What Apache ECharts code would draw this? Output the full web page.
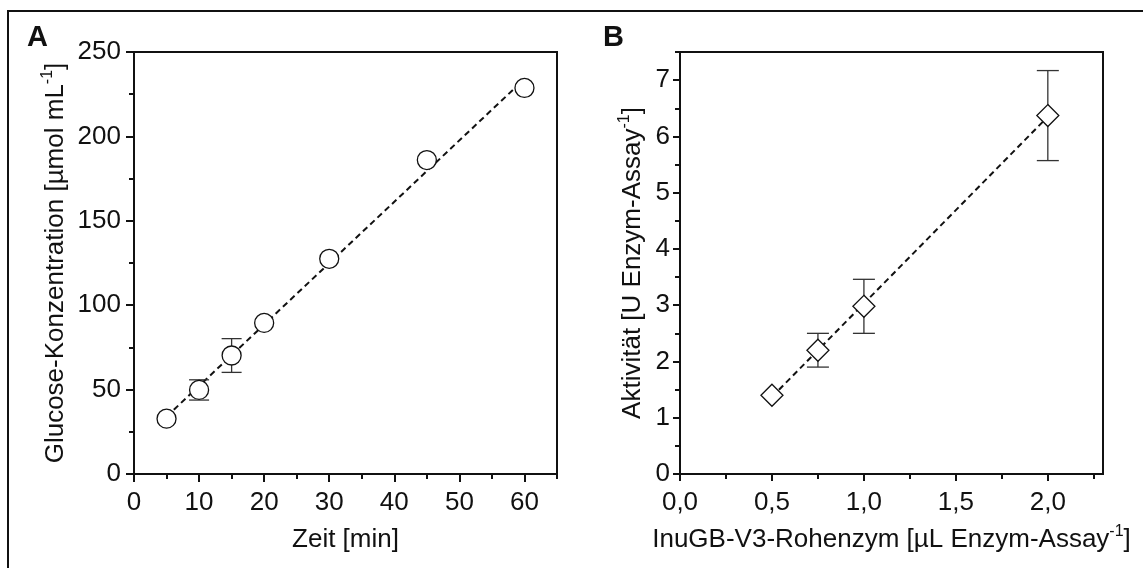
<!DOCTYPE html>
<html><head><meta charset="utf-8">
<script src="https://cdn.jsdelivr.net/npm/echarts@6/dist/echarts.min.js"></script>
<style>html,body{margin:0;padding:0;background:#fff}#c{width:1143px;height:568px}</style>
</head><body><div id="c"></div>
<script>
// ---- data ----
const timeMin = [5, 10, 15, 20, 30, 45, 60];
const glucose = [32.8, 49.8, 70.2, 89.5, 127.5, 186.0, 228.7];
const glucoseErr = [0, 6, 10, 0, 0, 0, 0];
const fitTime = [5, 60];
const fitGlucose = [34, 234];

const enzymeVol = [0.5, 0.75, 1.0, 2.0];
const activity = [1.40, 2.20, 2.98, 6.37];
const activityErr = [0, 0.30, 0.48, 0.80];
const fitEnzyme = [0.5, 2.0];
const fitActivity = [1.37, 6.35];

const ticksTime = [0, 10, 20, 30, 40, 50, 60];
const minorTime = [5, 15, 25, 35, 45, 55, 65];
const ticksGlucose = [0, 50, 100, 150, 200, 250];
const minorGlucose = [25, 75, 125, 175, 225];
const ticksEnzyme = [0, 0.5, 1.0, 1.5, 2.0];
const minorEnzyme = [0.25, 0.75, 1.25, 1.75, 2.25];
const ticksActivity = [0, 1, 2, 3, 4, 5, 6, 7];
const minorActivity = [0.5, 1.5, 2.5, 3.5, 4.5, 5.5, 6.5, 7.5];

const FONT = "'Liberation Sans', Arial, Helvetica, sans-serif";
const INK = '#111';

const nameStyle = {
  fontSize: 26, color: INK, fontFamily: FONT, lineHeight: 32,
  rich: { sup: { fontSize: 16, lineHeight: 16, verticalAlign: 'top', color: INK, fontFamily: FONT } }
};

function majorAxis(opt) {
  return {
    type: 'value', gridIndex: opt.grid, min: opt.min, max: opt.max, position: opt.pos,
    axisLine: { show: true, onZero: false, lineStyle: { color: INK, width: 2 } },
    axisTick: { show: true, inside: false, length: opt.tickLen, customValues: opt.ticks, lineStyle: { color: INK, width: 2 } },
    axisLabel: { show: true, customValues: opt.ticks, margin: opt.margin, fontSize: 26, color: INK, fontFamily: FONT, formatter: opt.fmt },
    splitLine: { show: false },
    name: opt.name, nameLocation: 'middle', nameGap: opt.nameGap, nameRotate: opt.rot,
    nameTextStyle: nameStyle
  };
}
function minorAxis(opt) {
  return {
    type: 'value', gridIndex: opt.grid, min: opt.min, max: opt.max, position: opt.pos,
    axisLine: { show: false, onZero: false },
    axisTick: { show: true, inside: false, length: opt.tickLen, customValues: opt.ticks, lineStyle: { color: INK, width: 2 } },
    axisLabel: { show: false },
    splitLine: { show: false }
  };
}
const commaFmt = v => v.toFixed(1).replace('.', ',');

function errRender(capHalf) {
  return function (params, api) {
    const x = api.value(0);
    const lo = api.coord([x, api.value(1)]);
    const hi = api.coord([x, api.value(2)]);
    const st = { stroke: '#333', lineWidth: 1.3 };
    return {
      type: 'group', children: [
        { type: 'line', shape: { x1: lo[0], y1: lo[1], x2: hi[0], y2: hi[1] }, style: st },
        { type: 'line', shape: { x1: hi[0] - capHalf, y1: hi[1], x2: hi[0] + capHalf, y2: hi[1] }, style: st },
        { type: 'line', shape: { x1: lo[0] - capHalf, y1: lo[1], x2: lo[0] + capHalf, y2: lo[1] }, style: st }
      ]
    };
  };
}

const errDataA = timeMin.map((x, i) => [x, glucose[i] - glucoseErr[i], glucose[i] + glucoseErr[i]]).filter((d, i) => glucoseErr[i] > 0);
const errDataB = enzymeVol.map((x, i) => [x, activity[i] - activityErr[i], activity[i] + activityErr[i]]).filter((d, i) => activityErr[i] > 0);

const chart = echarts.init(document.getElementById('c'), null, { renderer: 'canvas' });
chart.setOption({
  backgroundColor: '#fff',
  animation: false,
  grid: [
    { left: 134, top: 52, width: 423, height: 422, show: true, borderColor: INK, borderWidth: 2, backgroundColor: 'transparent' },
    { left: 680, top: 52, width: 423, height: 422, show: true, borderColor: INK, borderWidth: 2, backgroundColor: 'transparent' }
  ],
  xAxis: [
    majorAxis({ grid: 0, min: 0, max: 65, pos: 'bottom', tickLen: 8, ticks: ticksTime, margin: 16, name: 'Zeit [min]', nameGap: 50 }),
    minorAxis({ grid: 0, min: 0, max: 65, pos: 'bottom', tickLen: 5, ticks: minorTime }),
    majorAxis({ grid: 1, min: 0, max: 2.3, pos: 'bottom', tickLen: 7, ticks: ticksEnzyme, margin: 16, fmt: commaFmt,
      name: 'InuGB-V3-Rohenzym [µL Enzym-Assay{sup|-1}]', nameGap: 50 }),
    minorAxis({ grid: 1, min: 0, max: 2.3, pos: 'bottom', tickLen: 5, ticks: minorEnzyme })
  ],
  yAxis: [
    majorAxis({ grid: 0, min: 0, max: 250, pos: 'left', tickLen: 8, ticks: ticksGlucose, margin: 13, rot: 90,
      name: 'Glucose-Konzentration [µmol mL{sup|-1}]', nameGap: 62 }),
    minorAxis({ grid: 0, min: 0, max: 250, pos: 'left', tickLen: 5, ticks: minorGlucose }),
    majorAxis({ grid: 1, min: 0, max: 7.5, pos: 'left', tickLen: 7, ticks: ticksActivity, margin: 10, rot: 90,
      name: 'Aktivität [U Enzym-Assay{sup|-1}]', nameGap: 31 }),
    minorAxis({ grid: 1, min: 0, max: 7.5, pos: 'left', tickLen: 5, ticks: minorActivity })
  ],
  graphic: [
    { type: 'polyline', silent: true, shape: { points: [[8, 572], [8, 11], [1147, 11]] }, style: { stroke: INK, lineWidth: 2, fill: null } },
    { type: 'text', left: 27, top: 23, style: { text: 'A', fontSize: 29, fontWeight: 'bold', fontFamily: FONT, fill: INK } },
    { type: 'text', left: 603, top: 23, style: { text: 'B', fontSize: 29, fontWeight: 'bold', fontFamily: FONT, fill: INK } }
  ],
  series: [
    { type: 'line', xAxisIndex: 0, yAxisIndex: 0, data: fitTime.map((x, i) => [x, fitGlucose[i]]), symbol: 'none', silent: true,
      lineStyle: { type: [6, 4], width: 2, color: INK }, z: 2 },
    { type: 'custom', xAxisIndex: 0, yAxisIndex: 0, data: errDataA, renderItem: errRender(10), encode: { x: 0, y: [1, 2] }, z: 3, silent: true },
    { type: 'scatter', xAxisIndex: 0, yAxisIndex: 0, data: timeMin.map((x, i) => [x, glucose[i]]), symbol: 'circle', symbolSize: 19,
      itemStyle: { color: '#fff', borderColor: INK, borderWidth: 1.3, opacity: 1 }, z: 4, silent: true },

    { type: 'line', xAxisIndex: 2, yAxisIndex: 2, data: fitEnzyme.map((x, i) => [x, fitActivity[i]]), symbol: 'none', silent: true,
      lineStyle: { type: [6, 4], width: 2, color: INK }, z: 2 },
    { type: 'custom', xAxisIndex: 2, yAxisIndex: 2, data: errDataB, renderItem: errRender(11), encode: { x: 0, y: [1, 2] }, z: 3, silent: true },
    { type: 'scatter', xAxisIndex: 2, yAxisIndex: 2, data: enzymeVol.map((x, i) => [x, activity[i]]), symbol: 'diamond', symbolSize: 22,
      itemStyle: { color: '#fff', borderColor: INK, borderWidth: 1.3, opacity: 1 }, z: 4, silent: true }
  ]
});
</script>
</body></html>
